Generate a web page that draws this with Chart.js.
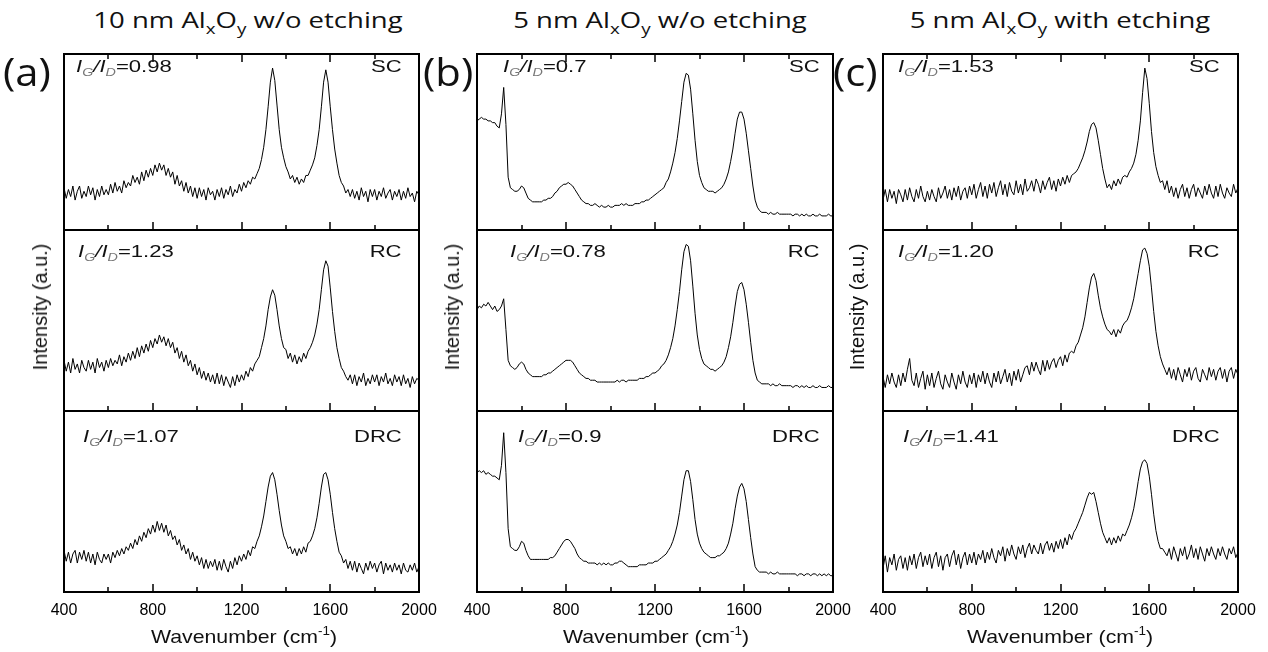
<!DOCTYPE html>
<html lang="en">
<head>
<meta charset="UTF-8">
<title>Raman spectra</title>
<script src="https://cdn.jsdelivr.net/npm/chart.js"></script>
<style>
    body, html { margin: 0; padding: 0; background: #fff; }
    #fig { position: relative; width: 1268px; height: 652px; overflow: hidden; font-family: "Liberation Sans", Arial, sans-serif; color: #111; }
    #fig canvas { position: absolute; }
    .title { position: absolute; top: 8px; font-family: "Open Sans", sans-serif; font-size: 22px; line-height: 1; white-space: nowrap; transform: translateX(-50%) scaleX(1.25); }
    .title sub { font-size: 15px; vertical-align: -6px; line-height: 0; }
    .panel { position: absolute; top: 52px; font-family: "Open Sans", sans-serif; font-size: 38px; line-height: 1; transform-origin: left top; transform: scaleX(1.1); }
    .ylab { position: absolute; font-size: 20px; line-height: 1; white-space: nowrap; transform: translate(-50%, -50%) rotate(-90deg); }
    .xlab { position: absolute; top: 627px; font-size: 19px; line-height: 1; white-space: nowrap; transform: translateX(-50%) scaleX(1.12); }
    .xlab sup { font-size: 12px; vertical-align: 8px; line-height: 0; }
    .ratio { position: absolute; font-size: 17px; line-height: 1; white-space: nowrap; transform-origin: left top; transform: scaleX(1.3); }
    .ratio sub { font-size: 11px; vertical-align: -4px; line-height: 0; color: #777; }
    .tag { position: absolute; font-size: 17px; line-height: 1; white-space: nowrap; transform-origin: right top; transform: scaleX(1.3); }
</style>
</head>
<body>
<div id="fig"></div>
<script>
// sampling grid of the spectra (cm-1)
const wavenumbers = [];
for (let w = 400; w <= 2000; w += 10) wavenumbers.push(w);

// inner tick marks along every sub-plot
const tickMarks = [600, 800, 1000, 1200, 1400, 1600, 1800];

const titles = ['10 nm Al<sub>x</sub>O<sub>y</sub> w/o etching', '5 nm Al<sub>x</sub>O<sub>y</sub> w/o etching', '5 nm Al<sub>x</sub>O<sub>y</sub> with etching'];
const panelLabels = ['(a)', '(b)', '(c)'];
const samples = ['SC', 'RC', 'DRC'];
const ratiosA = ['0.98', '1.23', '1.07'];
const ratiosB = ['0.7', '0.78', '0.9'];
const ratiosC = ['1.53', '1.20', '1.41'];

// (a) 10 nm AlxOy w/o etching, intensity in % of sub-plot height
const a_SC = [
    24,18,23,19,25,17,22,25,18,22, 19,25,20,24,17,23,19,25,20,23,
    20,26,21,27,22,25,21,28,24,27, 25,31,27,30,26,33,28,34,30,35,
    31,37,33,38,34,37,31,35,30,33, 26,31,25,28,22,27,21,25,19,24,
    18,24,19,23,17,24,20,22,17,23, 19,24,18,23,20,25,19,23,21,26,
    22,27,24,28,26,30,29,32,35,40, 47,57,70,84,92,85,71,57,47,41,
    36,33,29,31,27,30,26,29,27,31, 31,34,37,41,48,57,70,84,91,84,
    70,57,46,38,31,27,25,21,23,19, 23,18,22,17,24,19,22,16,23,19,
    23,17,22,19,24,18,21,23,17,22, 19,23,17,22,18,24,19,21,16,22, 20];
const a_RC = [
    28,22,27,21,29,23,26,21,28,24, 22,28,23,27,21,29,24,27,22,28,
    24,29,25,28,26,31,25,30,27,32, 28,33,29,35,30,36,32,37,33,39,
    35,40,37,42,38,41,36,40,35,38, 32,35,29,33,27,31,25,28,22,26,
    20,24,18,22,17,21,16,20,15,21, 15,20,14,19,16,13,19,14,20,16,
    20,17,22,19,24,22,26,28,30,35, 40,47,56,63,67,64,56,47,40,35,
    34,29,32,27,31,26,30,27,32,29, 33,35,38,42,48,56,67,78,83,80,
    68,55,44,35,29,24,22,19,17,20, 15,20,14,19,16,21,14,18,15,20,
    16,20,14,19,16,21,15,18,14,20, 16,19,14,20,15,18,13,19,15,18, 17];
const a_DRC = [
    23,17,22,16,21,23,16,22,18,23, 17,22,16,21,15,22,18,16,21,18,
    21,16,22,19,23,20,24,21,25,23, 27,24,29,26,31,28,33,30,35,32,
    37,33,39,34,38,33,37,31,34,29, 31,26,29,23,26,21,24,18,22,17,
    20,15,19,13,18,13,17,14,18,12, 17,12,18,14,11,17,13,19,15,20,
    17,21,18,23,20,25,24,28,31,36, 42,50,58,64,66,62,54,45,37,31,
    28,24,25,21,24,20,24,21,25,22, 27,28,31,35,41,49,58,65,66,62,
    54,44,35,28,22,20,16,18,13,17, 12,17,11,16,13,10,16,12,17,13,
    16,11,15,17,10,16,12,15,11,16, 12,15,10,16,12,11,15,12,16,11, 14];

// (b) 5 nm AlxOy w/o etching
const b_SC = [
    62,63,64,63,63,62,62,61,61,59, 58,66,81,60,30,24,23,22,22,23,
    25,24,21,18,17,16,16,16,16,16, 17,17,18,18,19,21,22,24,25,26,
    26,27,26,25,23,21,19,17,16,15, 15,14,14,15,14,13,14,13,13,14,
    13,13,14,14,14,15,14,15,14,14, 14,15,15,15,16,16,17,17,18,19,
    20,21,22,23,24,27,29,33,38,44, 52,62,73,84,89,88,80,66,51,39,
    31,27,24,23,22,22,22,21,22,23, 24,26,29,33,39,46,55,63,67,67,
    63,55,45,35,25,17,13,11,10,10, 10,9,10,9,9,10,9,9,9,9,
    9,9,8,9,9,8,9,8,9,8, 8,9,8,8,9,8,8,8,9,8, 8];
const b_RC = [
    56,58,57,59,58,60,58,56,58,55, 56,58,62,45,28,25,24,23,24,26,
    27,26,23,21,20,19,19,19,19,19, 20,20,21,21,22,23,24,25,26,27,
    28,28,28,27,25,23,21,20,19,18, 18,17,17,17,16,16,16,16,16,16,
    16,16,16,17,16,17,17,16,17,17, 17,17,17,18,18,18,19,19,20,21,
    21,22,23,25,26,28,31,35,40,47, 56,66,78,88,92,91,83,69,54,42,
    34,29,26,25,24,23,23,22,23,24, 25,27,30,35,41,49,58,66,70,71,
    67,59,49,38,28,21,17,16,15,15, 15,15,14,15,14,14,15,14,14,14,
    14,14,13,14,14,13,14,13,14,13, 13,14,13,13,14,13,13,13,14,13, 13];
const b_DRC = [
    66,67,66,67,65,66,65,64,64,63, 62,70,88,66,35,25,24,23,23,25,
    28,27,23,20,18,18,18,18,18,18, 18,18,18,19,19,20,22,24,26,28,
    29,29,28,26,24,21,19,18,17,17, 16,16,16,16,15,16,15,16,15,16,
    15,15,16,16,17,17,16,15,14,14, 14,14,14,15,15,15,15,16,16,16,
    17,17,18,19,20,21,23,25,28,32, 37,44,53,62,67,67,61,51,40,32,
    27,24,22,21,20,19,19,19,20,20, 21,22,24,27,32,38,46,53,58,60,
    57,50,40,30,21,14,12,11,11,11, 11,10,11,10,10,11,10,10,10,10,
    10,10,10,10,9,10,10,9,10,10, 9,10,10,9,10,9,10,9,10,9, 9];

// (c) 5 nm AlxOy with etching
const c_SC = [
    17,23,16,23,18,22,15,23,20,16, 23,17,24,19,16,23,18,25,19,16,
    22,17,23,19,16,24,18,21,25,18, 23,17,24,19,25,17,22,24,18,25,
    20,26,18,23,27,19,25,18,26,21, 27,19,24,28,20,26,19,27,22,20,
    28,21,26,20,29,22,24,28,22,29, 26,21,28,23,27,30,23,28,22,29,
    25,30,26,31,27,31,32,33,35,38, 41,45,50,56,60,61,58,51,43,35,
    29,24,26,23,28,25,29,26,30,31, 30,33,35,38,43,51,62,78,92,86,
    72,56,44,36,31,27,28,23,28,21, 25,19,24,18,23,26,19,24,18,23,
    26,19,24,21,18,25,20,26,21,18, 25,19,26,21,18,24,21,19,26,21, 24];
const c_RC = [
    19,13,20,15,21,16,13,20,14,21, 16,23,29,17,14,21,13,18,22,12,
    20,14,21,13,18,22,15,12,20,16, 13,21,16,12,20,15,22,16,13,20,
    15,21,13,20,16,22,15,21,16,13, 21,16,22,15,19,23,16,21,14,22,
    17,23,16,20,24,25,20,27,22,27, 23,20,28,22,28,23,27,29,24,28,
    30,25,31,27,32,33,32,36,38,42, 46,52,60,68,74,76,72,64,57,52,
    48,45,44,42,45,41,45,43,47,49, 50,53,57,62,69,76,83,89,90,87,
    80,68,55,44,36,30,26,23,20,24, 18,23,17,24,20,16,23,19,24,17,
    22,24,18,16,23,20,17,24,19,23, 17,22,24,18,23,16,22,24,18,23, 20];
const c_DRC = [
    13,20,11,19,15,21,12,18,20,13, 19,12,20,15,21,13,19,22,14,20,
    15,21,13,19,22,14,20,12,19,21, 14,20,23,15,21,13,19,22,15,21,
    16,22,15,21,18,23,16,22,18,24, 19,16,23,20,25,17,24,20,26,21,
    18,25,21,26,19,24,27,21,26,23, 21,27,21,26,28,23,27,22,28,24,
    29,24,30,26,32,29,33,35,38,41, 44,48,52,55,54,55,50,44,38,33,
    30,27,30,26,30,27,31,28,32,31, 34,37,41,46,53,61,68,72,73,71,
    64,54,43,34,28,24,24,22,20,24, 18,25,21,17,24,20,25,18,21,26,
    19,24,18,25,21,17,24,20,25,21, 18,24,20,25,21,18,24,21,25,19, 22];

// layout (px)
const panels = [
    { L: 64,  R: 419,  title: 248,  label: 3,   ylab: 40,  xlab: 244,  series: [a_SC, a_RC, a_DRC], ratios: ratiosA, rx: [76, 78, 83],    tagR: 402 },
    { L: 477, R: 833,  title: 660,  label: 423, ylab: 452, xlab: 656,  series: [b_SC, b_RC, b_DRC], ratios: ratiosB, rx: [503, 510, 518], tagR: 820 },
    { L: 883, R: 1238, title: 1060, label: 833, ylab: 857, xlab: 1060, series: [c_SC, c_RC, c_DRC], ratios: ratiosC, rx: [898, 898, 903], tagR: 1220 }
];
const rows = [[54, 230], [230, 411], [411, 592]];
const baselines = [72, 257, 442];

const fig = document.getElementById('fig');

// frame + inward ticks
const frame = {
    id: 'frame',
    afterDatasetsDraw(chart, args, opts) {
        const { ctx, chartArea: a } = chart;
        const x = chart.scales.x;
        ctx.save();
        ctx.strokeStyle = '#000';
        ctx.lineWidth = 2;
        ctx.strokeRect(a.left, a.top, a.right - a.left, a.bottom - a.top);
        ctx.lineWidth = 1.5;
        ctx.beginPath();
        tickMarks.forEach(v => {
            const px = Math.round(x.getPixelForValue(v));
            const len = v % 400 === 0 ? 8 : 5;
            ctx.moveTo(px, a.bottom);
            ctx.lineTo(px, a.bottom - len);
            if (opts.top) {
                ctx.moveTo(px, a.top);
                ctx.lineTo(px, a.top + len);
            }
        });
        ctx.stroke();
        ctx.restore();
    }
};

function makeChart(p, row) {
    const [T, B] = rows[row];
    const bottom = row === 2;
    const padX = 24, padY = 3, axisH = 28;
    const c = document.createElement('canvas');
    c.width = p.R - p.L + 2 * padX;
    c.height = B - T + padY + (bottom ? axisH : padY);
    c.style.left = (p.L - padX) + 'px';
    c.style.top = (T - padY) + 'px';
    fig.appendChild(c);
    const series = p.series[row];
    const xScale = {
        type: 'linear', min: 400, max: 2000, display: bottom,
        grid: { display: false }, border: { display: false },
        ticks: { stepSize: 400, padding: 1, color: '#000', maxRotation: 0, autoSkip: false,
                 format: { useGrouping: false },
                 font: { family: '"Liberation Sans", Arial, sans-serif', size: 16 } }
    };
    if (bottom) xScale.afterFit = s => { s.height = axisH; };
    new Chart(c, {
        type: 'line',
        data: {
            datasets: [{
                data: wavenumbers.map((w, i) => ({ x: w, y: series[i] })),
                borderColor: '#000',
                borderWidth: 1,
                pointRadius: 0,
                tension: 0
            }]
        },
        options: {
            responsive: false,
            animation: false,
            events: [],
            layout: { padding: { left: padX, right: padX, top: padY, bottom: bottom ? 0 : padY } },
            plugins: { legend: { display: false }, tooltip: { enabled: false }, frame: { top: row === 0 } },
            scales: {
                x: xScale,
                y: { display: false, min: 0, max: 100 }
            }
        },
        plugins: [frame]
    });
}

function addText(cls, html, style) {
    const d = document.createElement('div');
    d.className = cls;
    d.innerHTML = html;
    Object.assign(d.style, style);
    fig.appendChild(d);
}

panels.forEach((p, i) => {
    for (let r = 0; r < 3; r++) makeChart(p, r);
    addText('title', titles[i], { left: p.title + 'px' });
    addText('panel', panelLabels[i], { left: p.label + 'px' });
    addText('ylab', 'Intensity (a.u.)', { left: p.ylab + 'px', top: '307px' });
    addText('xlab', 'Wavenumber (cm<sup>-1</sup>)', { left: p.xlab + 'px' });
    for (let r = 0; r < 3; r++) {
        addText('ratio', '<i>I</i><sub><i>G</i></sub><i>/I</i><sub><i>D</i></sub>=' + p.ratios[r],
            { left: p.rx[r] + 'px', top: (baselines[r] - 14) + 'px' });
        addText('tag', samples[r], { right: (1268 - p.tagR) + 'px', top: (baselines[r] - 14) + 'px' });
    }
});
</script>
</body>
</html>
